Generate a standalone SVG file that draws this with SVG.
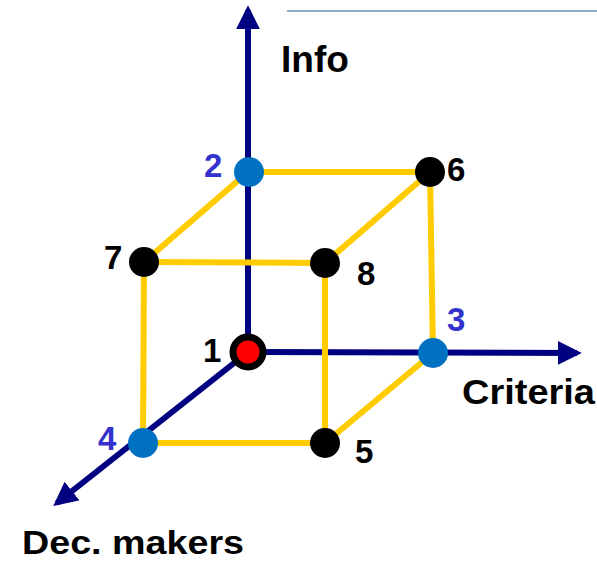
<svg xmlns="http://www.w3.org/2000/svg" width="597" height="561" viewBox="0 0 597 561">
<style>
.ax{stroke:#000080;stroke-width:6;fill:none}
.ed{stroke:#FFCC00;stroke-width:6;fill:none}
.lbl{font-family:"Liberation Sans",Arial,sans-serif;font-weight:bold;fill:#000}
.num{font-family:"Liberation Sans",Arial,sans-serif;font-weight:bold;font-size:33px;fill:#000}
.bnum{fill:#3333CC}
.blk{fill:#000}
.blu{fill:#0070C0}
</style>
<defs>
<marker id="ah" markerWidth="4" markerHeight="4" refX="3.2" refY="2" orient="auto" markerUnits="strokeWidth">
<path d="M0,0 L4,2 L0,4 Z" fill="#000080"/>
</marker>
</defs>
<line x1="287" y1="11" x2="597" y2="11" stroke="#8EA9C9" stroke-width="2"/>
<g id="connectors">
<line class="ax" x1="248" y1="352" x2="248" y2="10" marker-end="url(#ah)"/>
<line class="ax" x1="248" y1="352" x2="577" y2="353" marker-end="url(#ah)"/>
<line class="ax" x1="248" y1="352" x2="57" y2="503" marker-end="url(#ah)"/>
<line class="ed" x1="248" y1="172" x2="430" y2="172"/>
<line class="ed" x1="248" y1="172" x2="144" y2="262"/>
<line class="ed" x1="144" y1="262" x2="325" y2="263"/>
<line class="ed" x1="430" y1="172" x2="325" y2="263"/>
<line class="ed" x1="430" y1="172" x2="433" y2="353"/>
<line class="ed" x1="325" y1="263" x2="325" y2="443"/>
<line class="ed" x1="144" y1="262" x2="143" y2="443"/>
<line class="ed" x1="143" y1="443" x2="325" y2="443"/>
<line class="ed" x1="325" y1="443" x2="433" y2="353"/>
</g>
<g id="node1"><circle cx="248" cy="352" r="15" fill="#FF0000" stroke="#000" stroke-width="7"/><text class="num" x="203" y="362">1</text></g>
<g id="node2"><circle class="blu" cx="249" cy="172" r="15"/><text class="num bnum" x="204" y="177">2</text></g>
<g id="node3"><circle class="blu" cx="433" cy="353" r="15"/><text class="num bnum" x="447" y="331">3</text></g>
<g id="node4"><circle class="blu" cx="143" cy="443" r="15"/><text class="num bnum" x="98" y="450">4</text></g>
<g id="node5"><circle class="blk" cx="325" cy="443" r="15"/><text class="num" x="355" y="463">5</text></g>
<g id="node6"><circle class="blk" cx="430" cy="172" r="15"/><text class="num" x="447" y="181">6</text></g>
<g id="node7"><circle class="blk" cx="144" cy="262" r="15"/><text class="num" x="104" y="269">7</text></g>
<g id="node8"><circle class="blk" cx="325" cy="263" r="15"/><text class="num" x="357" y="285">8</text></g>
<text class="lbl" x="281" y="72" font-size="37">Info</text>
<text class="lbl" x="462" y="404" font-size="35" textLength="133" lengthAdjust="spacingAndGlyphs">Criteria</text>
<text class="lbl" x="22" y="554" font-size="33" textLength="222" lengthAdjust="spacingAndGlyphs">Dec. makers</text>
</svg>
